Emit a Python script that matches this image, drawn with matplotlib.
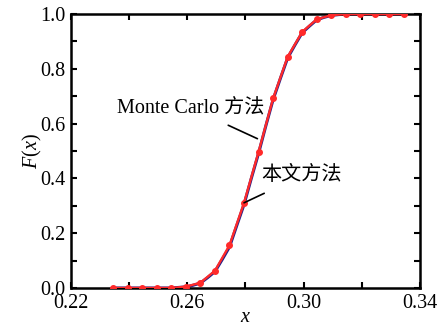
import matplotlib.pyplot as plt

plt.rcParams['font.family'] = ['Liberation Serif', 'Noto Sans CJK SC']
plt.rcParams['mathtext.fontset'] = 'custom'
plt.rcParams['mathtext.it'] = 'Liberation Serif:italic'
plt.rcParams['mathtext.rm'] = 'Liberation Serif'

# Monte Carlo curve
mc_x = [0.2345, 0.2545, 0.2570, 0.2595, 0.2620, 0.2645, 0.2670, 0.2695, 0.2720,
        0.2745, 0.2770, 0.2795, 0.2820, 0.2845, 0.2870, 0.2895, 0.2920, 0.2945,
        0.2970, 0.2995, 0.3020, 0.3045, 0.3070, 0.3095, 0.3120, 0.3145, 0.3345]
mc_y = [0.0, 0.0, 0.002, 0.004, 0.010, 0.018, 0.038, 0.060, 0.104,
        0.150, 0.228, 0.305, 0.400, 0.492, 0.592, 0.688, 0.765, 0.840,
        0.887, 0.932, 0.956, 0.979, 0.988, 0.995, 0.998, 1.0, 1.0]

# proposed method
pm_x = [0.2345, 0.2395, 0.2445, 0.2495, 0.2545, 0.2595, 0.2645, 0.2695, 0.2745,
        0.2795, 0.2845, 0.2895, 0.2945, 0.2995, 0.3045, 0.3095, 0.3145, 0.3195,
        0.3245, 0.3295, 0.3345]
pm_y = [0.0, 0.0, 0.0, 0.0, 0.0, 0.005, 0.019, 0.063, 0.156,
        0.311, 0.497, 0.692, 0.844, 0.935, 0.981, 0.996, 1.0, 1.0,
        1.0, 1.0, 1.0]

xticks = [0.22, 0.24, 0.26, 0.28, 0.30, 0.32, 0.34]
xlabels = ['0.22', '', '0.26', '', '0.30', '', '0.34']
yticks = [0.0, 0.1, 0.2, 0.3, 0.4, 0.5, 0.6, 0.7, 0.8, 0.9, 1.0]
ylabels = ['0.0', '', '0.2', '', '0.4', '', '0.6', '', '0.8', '', '1.0']

fig = plt.figure(figsize=(4.39, 3.27), dpi=100)
ax = fig.add_axes([0.1617, 0.1193, 0.795, 0.8377])

ax.plot(mc_x, mc_y, color='#20208a', lw=2.2, zorder=2)
ax.plot(pm_x, pm_y, color='#ff2a2a', lw=1.7, marker='o', ms=4, zorder=3)

ax.set_xlim(0.22, 0.34)
ax.set_ylim(0.0, 1.0)
ax.set_xticks(xticks)
ax.set_xticklabels(xlabels)
ax.set_yticks(yticks)
ax.set_yticklabels(ylabels)
ax.tick_params(direction='in', length=4, width=1.5, top=True, right=True,
               labelsize=14.5, pad=4, colors='black')
for s in ax.spines.values():
    s.set_linewidth(1.8)

ax.set_xlabel('$x$', fontsize=14.5, labelpad=-3)
ax.set_ylabel('$F$($x$)', fontsize=14.5, labelpad=-3)

ax.annotate('Monte Carlo 方法', xy=(pm_x[10] - 0.0004, 0.545), xytext=(0.2610, 0.658),
            fontsize=14.5, ha='center', va='center',
            arrowprops=dict(arrowstyle='-', color='black', lw=1.2,
                            shrinkA=9, shrinkB=0))
ax.annotate('本文方法', xy=(pm_x[9], pm_y[9]), xytext=(0.2855, 0.410),
            fontsize=14.5, ha='left', va='center',
            arrowprops=dict(arrowstyle='-', color='black', lw=1.2,
                            shrinkA=9, shrinkB=0))

fig.savefig('out.png', dpi=100)
